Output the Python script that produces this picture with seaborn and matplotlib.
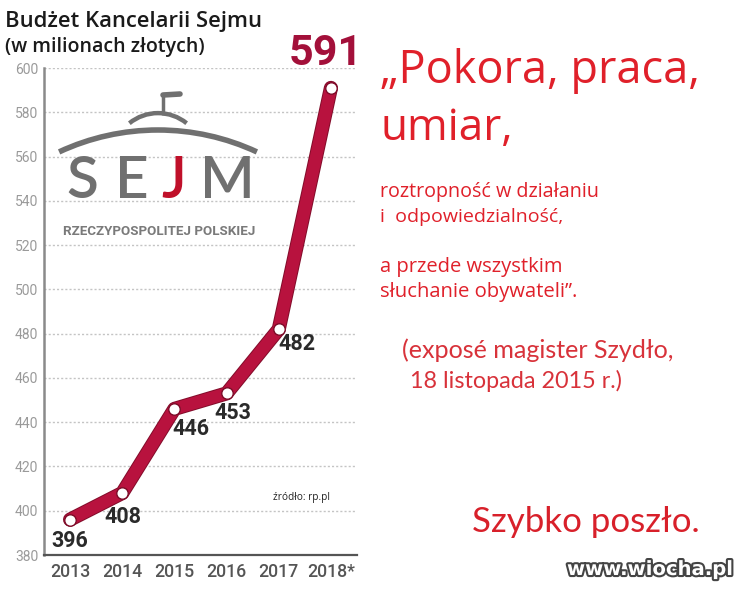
import matplotlib
matplotlib.use("Agg")
import matplotlib.pyplot as plt
import matplotlib.patheffects as pe
from matplotlib.patches import Arc
import seaborn as sns
import pandas as pd

years = ["2013", "2014", "2015", "2016", "2017", "2018*"]
budget = [396, 408, 446, 453, 482, 591]
y_ticks = [380, 400, 420, 440, 460, 480, 500, 520, 540, 560, 580, 600]

sns.set_theme(style="white")
plt.rcParams['font.family'] = ['Open Sans', 'DejaVu Sans']
NUM = ['Roboto', 'DejaVu Sans']

W, H = 750, 593
fig = plt.figure(figsize=(7.5, 5.93), dpi=100)
fig.patch.set_facecolor("white")


def fx(px):
    return px / W


def fy(py):
    return 1 - py / H


renderer = fig.canvas.get_renderer()


def fit(t, target_w):
    w = t.get_window_extent(renderer).width
    t.set_fontsize(t.get_fontsize() * target_w / w)
    return t


ax = fig.add_axes([fx(44), fy(555), fx(357) - fx(44), fy(68) - fy(555)])
df = pd.DataFrame({"pos": range(len(years)), "val": budget})

line_col = "#B8123E"
sns.lineplot(data=df, x="pos", y="val", ax=ax, color=line_col, linewidth=8.8,
             solid_capstyle="round", solid_joinstyle="round",
             path_effects=[pe.Stroke(linewidth=10.2, foreground="#820c2a"), pe.Normal()],
             clip_on=False, zorder=5)
sns.scatterplot(data=df, x="pos", y="val", ax=ax, s=68, color="white",
                edgecolor="#7d0b28", linewidth=1.0, clip_on=False, zorder=6)

ax.set_xlim(-0.5, 5.5)
ax.set_ylim(380, 600)
ax.set_xlabel("")
ax.set_ylabel("")
ax.set_yticks(y_ticks)
ax.set_yticklabels([str(v) for v in y_ticks], color="#9a9a9a", fontsize=10, family=NUM)
ax.set_xticks(range(len(years)))
ax.set_xticklabels(years, color="#555555", fontsize=12.8, family=NUM, fontweight="medium")
ax.set_xticks([i + 0.5 for i in range(len(years))], minor=True)
ax.tick_params(axis="x", which="major", length=0, pad=6)
ax.tick_params(axis="x", which="minor", length=7, width=1.3, color="#666666", direction="in")
ax.tick_params(axis="y", length=0, pad=4)
for v in y_ticks[1:]:
    ax.axhline(v, color="#c4c4c4", linestyle=(0, (1.5, 1.5)), linewidth=1, zorder=0)
for s in ["top", "right"]:
    ax.spines[s].set_visible(False)
ax.spines["left"].set_color("#8a8a8a")
ax.spines["left"].set_linewidth(1.8)
ax.spines["bottom"].set_color("#555555")
ax.spines["bottom"].set_linewidth(1.6)

# value labels (offsets in pixels: label centre x, baseline)
offsets = [(-0.5, -27.5), (1, -30), (16, -26), (6, -26), (18.5, -21)]
for i, (dx, dy) in enumerate(offsets):
    ax.annotate(str(budget[i]), (i, budget[i]), xytext=(dx, dy), textcoords="offset pixels",
                ha="center", va="baseline", fontsize=15.5, fontweight="bold",
                color="#2a2a2a", family=NUM, zorder=7, annotation_clip=False)
t591 = ax.annotate(str(budget[5]), (5, budget[5]), xytext=(-5, 23), textcoords="offset pixels",
                   ha="center", va="baseline", fontsize=32, fontweight="bold",
                   color="#A3103A", family=NUM, annotation_clip=False)
fit(t591, 74)

# title
fit(fig.text(fx(5), fy(27), "Budżet Kancelarii Sejmu", ha="left", va="baseline",
             fontsize=15, color="#1a1a1a", fontweight="semibold"), 257)
fit(fig.text(fx(5), fy(52), "(w milionach złotych)", ha="left", va="baseline",
             fontsize=13.5, color="#1a1a1a", fontweight="semibold"), 198)

# Sejm logo
grey = "#707070"
for ch, x in zip(["S", "E", "J", "M"], [82, 132, 174, 227]):
    fig.text(fx(x), fy(198), ch, ha="center", va="baseline", fontsize=42,
             color="#C0102A" if ch == "J" else grey, family=['Lato', 'DejaVu Sans'],
             fontweight="semibold")
fit(fig.text(fx(63), fy(235), "RZECZYPOSPOLITEJ POLSKIEJ", ha="left", va="baseline",
             fontsize=9, fontweight="bold", color="#7a7a7a", family=NUM), 192)
arc_ax = fig.add_axes([0, 0, 1, 1], facecolor="none")
arc_ax.set_xlim(0, W)
arc_ax.set_ylim(H, 0)
arc_ax.axis("off")
arc_ax.add_patch(Arc((158, 364), 468, 468, theta1=245, theta2=295, color=grey, linewidth=4))
arc_ax.add_patch(Arc((158, 158.6), 91, 91, theta1=231, theta2=309, color=grey, linewidth=3.2))
arc_ax.plot([163, 163], [93, 115], color=grey, linewidth=2.5, solid_capstyle="butt")
arc_ax.plot([163, 180], [95, 94], color=grey, linewidth=4, solid_capstyle="round")

fit(fig.text(fx(273), fy(500), "źródło: rp.pl", ha="left", va="baseline", fontsize=7.5,
             color="#222222"), 57)

# quote
red = "#E0202A"
Q = ['Open Sans', 'DejaVu Sans']
fit(fig.text(fx(380), fy(83), "„Pokora, praca,", ha="left", va="baseline", fontsize=32,
             color=red, family=Q), 320)
fit(fig.text(fx(380), fy(140), "umiar,", ha="left", va="baseline", fontsize=32,
             color=red, family=Q), 133)
for txt, y, w in [("roztropność w działaniu", 197, 220), ("i  odpowiedzialność,", 222, 183),
                  ("a przede wszystkim", 272, 183), ("słuchanie obywateli”.", 297, 198)]:
    fit(fig.text(fx(380), fy(y), txt, ha="left", va="baseline", fontsize=12.5,
                 color=red, family=Q), w)
P = ['Lato', 'DejaVu Sans']
fit(fig.text(fx(402), fy(358), "(exposé magister Szydło,", ha="left", va="baseline",
             fontsize=16, color="#D8323A", family=P), 273)
fit(fig.text(fx(410), fy(388), "18 listopada 2015 r.)", ha="left", va="baseline",
             fontsize=16, color="#D8323A", family=P), 213)
fit(fig.text(fx(472), fy(532), "Szybko poszło.", ha="left", va="baseline",
             fontsize=23, color="#D8202A", family=P), 228)
fit(fig.text(fx(567), fy(575), "www.wiocha.pl", ha="left", va="baseline", fontsize=15,
             fontweight="bold", color="white", family=['DejaVu Sans'],
             path_effects=[pe.Stroke(linewidth=3, foreground="#444444"), pe.Normal()]), 166)

fig.savefig("out.png", dpi=100, facecolor="white")
